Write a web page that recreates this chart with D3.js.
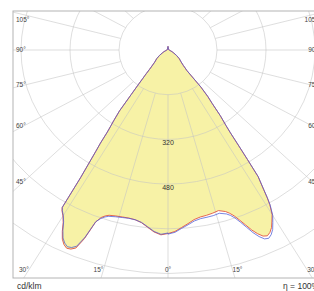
<!DOCTYPE html>
<html><head><meta charset="utf-8">
<script src="https://cdn.jsdelivr.net/npm/d3@7/dist/d3.min.js"></script>
<style>html,body{margin:0;padding:0;background:#fff;overflow:hidden}svg{display:block}</style>
</head><body>
<script>
// ---- data (cd/klm) ----
const gammas = [0,2,4,6,8,10,12,14,16,18,19,20,21,22,23,24,25,26,27,28,29,30,31,31.5,32,33,33.5,34,34.5,35,36,37,38,39,39.5,40,41,42,45,50,55,60,65,70,80,90,100,120,140,160,170,175,178,180];
// C180 (left half) and C0 (right half) plane – red curve
const c180 = [657,662,653,638,624,617,615,616,618,622,628,638,660,728,770,780,783,775,760,735,706,686,672,662,540,435,400,355,330,310,270,200,160,130,120,110,93,82,62,48,34,22,15,10,5,3,3,3,3,3,3,8,12,13];
const c0   = [657,650,637,625,613,607,605,602,598,608,618,632,652,675,700,720,735,740,733,720,700,680,645,620,590,540,470,410,360,330,290,240,210,170,120,95,85,75,60,48,34,22,15,10,5,3,3,3,3,3,3,8,12,13];
// C270 (left half) and C90 (right half) plane – blue curve
const c270 = [655,660,651,636,623,617,616,618,621,626,632,642,658,722,763,774,777,769,755,731,703,684,670,660,538,434,399,354,329,309,269,199,159,129,119,109,92,81,61,48,34,22,15,10,5,3,3,3,3,3,3,8,12,13];
const c90  = [659,653,640,629,618,613,612,611,608,617,626,640,660,684,710,731,746,750,742,728,706,684,648,622,592,541,471,411,361,331,291,241,211,171,121,96,86,76,61,48,34,22,15,10,5,3,3,3,3,3,3,8,12,13];
const ringValues = [160,320,480,640,800,960];
const ringLabels = ["320","480"];
const angleTicks = [0,15,30,45,60,75,90,105,120,135,150,165,180];
const sideLabels = [45,60,75,90,105];
const bottomLabels = [30,15,0];
const unitText = "cd/klm";
const etaText = "η = 100%";

// ---- layout ----
const W = 314, H = 291;
const frame = {x:13, y:11, w:310, h:267};
const cx = 168, cy = 50;
const rX = d3.scaleLinear().domain([0,160]).range([0,49]);
const rY = d3.scaleLinear().domain([0,160]).range([0,44.7]);
const rad = d => d*Math.PI/180;
function pt(g, v, side){ // side -1 left, +1 right
  return [cx + side*Math.sin(rad(g))*rX(v), cy + Math.cos(rad(g))*rY(v)];
}

const svg = d3.select("body").append("svg").attr("width",W).attr("height",H);
svg.append("defs").append("clipPath").attr("id","fc").append("rect")
  .attr("x",frame.x).attr("y",frame.y).attr("width",frame.w).attr("height",frame.h);

function curve(left, right){
  const p = [];
  gammas.forEach((g,i)=>p.push(pt(g,right[i],1)));
  for(let i=gammas.length-1;i>=0;i--) p.push(pt(gammas[i],left[i],-1));
  return p;
}
const line = d3.line().curve(d3.curveLinearClosed);

// fill
svg.append("path").attr("d", line(curve(c180,c0))).attr("fill","#f7f2a6").attr("stroke","none");

// grid
const grid = svg.append("g").attr("clip-path","url(#fc)").attr("fill","none")
  .attr("stroke","#c4c4c4").attr("stroke-width",0.7).attr("stroke-opacity",0.8);
ringValues.forEach(v=>{
  grid.append("ellipse").attr("cx",cx).attr("cy",cy).attr("rx",rX(v)).attr("ry",rY(v));
});
angleTicks.forEach(g=>{
  [-1,1].forEach(s=>{
    if((g===0||g===180)&&s===1) return;
    const a = pt(g,160,s), b = pt(g,2000,s);
    grid.append("line").attr("x1",a[0]).attr("y1",a[1]).attr("x2",b[0]).attr("y2",b[1]);
  });
});

// curves
svg.append("path").attr("d", line(curve(c180,c0))).attr("fill","none").attr("stroke","#e2553f").attr("stroke-width",0.9);
svg.append("path").attr("d", line(curve(c270,c90))).attr("fill","none").attr("stroke","#4f5fd6").attr("stroke-width",0.9).attr("stroke-opacity",0.85);

// frame
svg.append("rect").attr("x",frame.x).attr("y",frame.y).attr("width",frame.w).attr("height",frame.h)
  .attr("fill","none").attr("stroke","#b4b4b4").attr("stroke-width",1);

const font = "Liberation Sans, Arial, sans-serif";
// ring labels
ringLabels.forEach((t,i)=>{
  const v = ringValues[i+1];
  svg.append("text").attr("x",cx).attr("y",cy+rY(v)+6).attr("text-anchor","middle")
    .attr("font-family",font).attr("font-size",7).attr("fill","#333").text(t);
});
// side angle labels
const ratio = rY(1)/rX(1);
sideLabels.forEach(g=>{
  [-1,1].forEach(s=>{
    const lx = s<0 ? frame.x+3 : frame.x+frame.w-5;
    const dx = Math.abs(cx-24);
    let y = cy + dx*ratio/Math.tan(rad(g));
    y = Math.max(y, frame.y+9);
    svg.append("text").attr("x",lx).attr("y",y).attr("dy","0.35em").attr("text-anchor",s<0?"start":"end")
      .attr("font-family",font).attr("font-size",6.5).attr("fill","#444").text(g+"°");
  });
});
// bottom angle labels
const by = 270;
bottomLabels.forEach(g=>{
  [-1,1].forEach(s=>{
    if(g===0 && s===1) return;
    const x = cx + s*(by-cy)*Math.tan(rad(g))/ratio;
    svg.append("text").attr("x",x).attr("y",by).attr("dy","0.35em")
      .attr("text-anchor", g===0 ? "middle" : (s<0 ? "end" : "start"))
      .attr("font-family",font).attr("font-size",6.5).attr("fill","#444").text(g+"°");
  });
});
svg.append("text").attr("x",17).attr("y",286).attr("dy","0.35em").attr("font-family",font)
  .attr("font-size",8.5).attr("fill","#333").text(unitText);
svg.append("text").attr("x",283).attr("y",286).attr("dy","0.35em").attr("font-family",font)
  .attr("font-size",8.5).attr("fill","#333").text(etaText);
</script>
</body></html>
